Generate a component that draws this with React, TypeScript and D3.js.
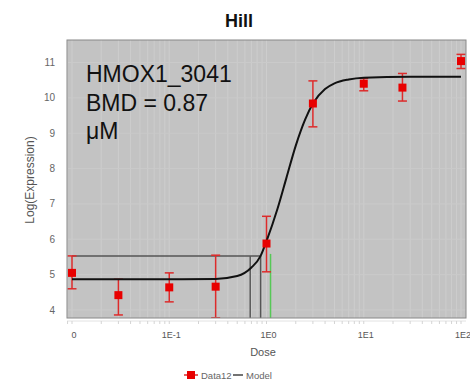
import React from 'react';
import * as d3 from 'd3';

// observed data (dose 0 is drawn at the 0.01 position on the log axis)
const doses = [0, 0.03, 0.1, 0.3, 1, 3, 10, 25, 100];
const means = [5.05, 4.42, 4.64, 4.66, 5.88, 9.84, 10.4, 10.29, 11.04];
const upper = [5.53, 4.87, 5.05, 5.55, 6.65, 10.48, 10.55, 10.69, 11.23];
const lower = [4.6, 3.86, 4.23, 3.78, 5.08, 9.18, 10.2, 9.91, 10.83];

// fitted Hill model
const modelDose = [0.01, 0.1, 0.3, 0.5, 0.7, 0.87, 1, 1.3, 1.6, 2, 2.5, 3, 4, 5, 7, 10, 30, 100];
const modelValue = [4.87, 4.87, 4.88, 4.96, 5.2, 5.53, 5.95, 6.87, 7.73, 8.65, 9.39, 9.84, 10.25, 10.41, 10.52, 10.57, 10.6, 10.6];

const bmr = 5.53;
const bmdl = 0.68;
const bmd = 0.87;
const bmdu = 1.1;

const yTicks = [4, 5, 6, 7, 8, 9, 10, 11];
const xTicks = [0.01, 0.1, 1, 10, 100];
const xTickLabels = ['0', '1E-1', '1E0', '1E1', '1E2'];

const W = 470;
const H = 384;
const plot = { left: 67, right: 466, top: 40, bottom: 318 };

const App = () => {
  const x = d3.scaleLog().domain([0.01, 100]).range([72, 461]);
  const y = d3.scaleLinear().domain([4, 11]).range([310, 62.5]);
  const xd = (d: number) => x(d === 0 ? 0.01 : d);

  const minor: number[] = [];
  for (let e = -3; e <= 2; e++) {
    for (let m = 1; m <= 9; m++) {
      const v = m * Math.pow(10, e);
      const px = x(v);
      if (px > plot.left && px < plot.right) minor.push(v);
    }
  }

  const line = d3
    .line<number>()
    .x((_, i) => x(modelDose[i]))
    .y(d => y(d))
    .curve(d3.curveMonotoneX);

  const font = 'Liberation Sans, Arial, sans-serif';

  return (
    <svg width={W} height={H} style={{ position: 'absolute', left: 0, top: 0 }} fontFamily={font}>
      <rect width={W} height={H} fill="#fff" />
      <text x={239} y={27} textAnchor="middle" fontSize={18} fontWeight="bold" fill="#111">
        Hill
      </text>

      <defs>
        <clipPath id="plotclip">
          <rect x={plot.left} y={plot.top} width={plot.right - plot.left} height={plot.bottom - plot.top} />
        </clipPath>
      </defs>

      <rect
        x={plot.left}
        y={plot.top}
        width={plot.right - plot.left}
        height={plot.bottom - plot.top}
        fill="#c3c3c3"
      />
      {minor.map((v, i) => (
        <line key={'gx' + i} x1={x(v)} x2={x(v)} y1={plot.top} y2={plot.bottom} stroke="#cdcdcd" strokeWidth={1} />
      ))}
      {yTicks.map(t => (
        <line key={'gy' + t} x1={plot.left} x2={plot.right} y1={y(t)} y2={y(t)} stroke="#cacaca" strokeWidth={1} />
      ))}

      <g clipPath="url(#plotclip)">
        {/* BMD lines */}
        <line x1={xd(0)} x2={x(bmd)} y1={y(bmr)} y2={y(bmr)} stroke="#555" strokeWidth={1.5} />
        <line x1={x(bmd)} x2={x(bmd)} y1={y(bmr)} y2={plot.bottom} stroke="#555" strokeWidth={1.5} />
        <line x1={x(bmdl)} x2={x(bmdl)} y1={y(bmr)} y2={plot.bottom} stroke="#5a5a5a" strokeWidth={1.5} />
        <line x1={x(bmdu)} x2={x(bmdu)} y1={y(bmr) - 2} y2={plot.bottom} stroke="#56c856" strokeWidth={1.5} />

        {/* error bars */}
        {doses.map((d, i) => (
          <g key={'e' + i} stroke="#dd2b2b" strokeWidth={1.5}>
            <line x1={xd(d)} x2={xd(d)} y1={y(upper[i])} y2={y(lower[i])} />
            <line x1={xd(d) - 4.5} x2={xd(d) + 4.5} y1={y(upper[i])} y2={y(upper[i])} />
            <line x1={xd(d) - 4.5} x2={xd(d) + 4.5} y1={y(lower[i])} y2={y(lower[i])} />
          </g>
        ))}

        <path d={line(modelValue) || ''} fill="none" stroke="#111" strokeWidth={2} />

        {doses.map((d, i) => (
          <rect key={'p' + i} x={xd(d) - 4} y={y(means[i]) - 4} width={8} height={8} fill="#e80000" />
        ))}
      </g>

      <rect
        x={plot.left}
        y={plot.top}
        width={plot.right - plot.left}
        height={plot.bottom - plot.top}
        fill="none"
        stroke="#888"
        strokeWidth={1}
      />

      {/* x axis */}
      <line x1={plot.left} x2={plot.right} y1={321} y2={321} stroke="#e2e2e2" strokeWidth={1} />
      {minor.map((v, i) => (
        <line key={'tx' + i} x1={x(v)} x2={x(v)} y1={321} y2={324} stroke="#d4d4d4" strokeWidth={1} />
      ))}
      {xTicks.map((t, i) => (
        <text key={'lx' + i} x={x(t) + 2} y={338} textAnchor="middle" fontSize={9} fill="#555">
          {xTickLabels[i]}
        </text>
      ))}
      <text x={263} y={356} textAnchor="middle" fontSize={11} fill="#555">
        Dose
      </text>

      {/* y axis */}
      {yTicks.map(t => (
        <text key={'ly' + t} x={55} y={y(t) + 3.5} textAnchor="end" fontSize={10} fill="#666">
          {t}
        </text>
      ))}
      <text
        transform={`translate(34,180) rotate(-90)`}
        textAnchor="middle"
        fontSize={12}
        fill="#555"
      >
        Log(Expression)
      </text>

      {/* annotation */}
      <g fontSize={23} fill="#111">
        <text x={86} y={82}>HMOX1_3041</text>
        <text x={86} y={111}>BMD = 0.87</text>
        <text x={86} y={139}>μM</text>
      </g>

      {/* legend */}
      <line x1={184} x2={198} y1={375} y2={375} stroke="#dd2b2b" strokeWidth={1.5} />
      <rect x={187} y={371} width={8} height={8} fill="#e80000" />
      <text x={201} y={378.5} fontSize={9.5} fill="#666">
        Data12
      </text>
      <line x1={233} x2={243} y1={375} y2={375} stroke="#444" strokeWidth={1.5} />
      <text x={246} y={378.5} fontSize={9.5} fill="#666">
        Model
      </text>
    </svg>
  );
};

export default App;
